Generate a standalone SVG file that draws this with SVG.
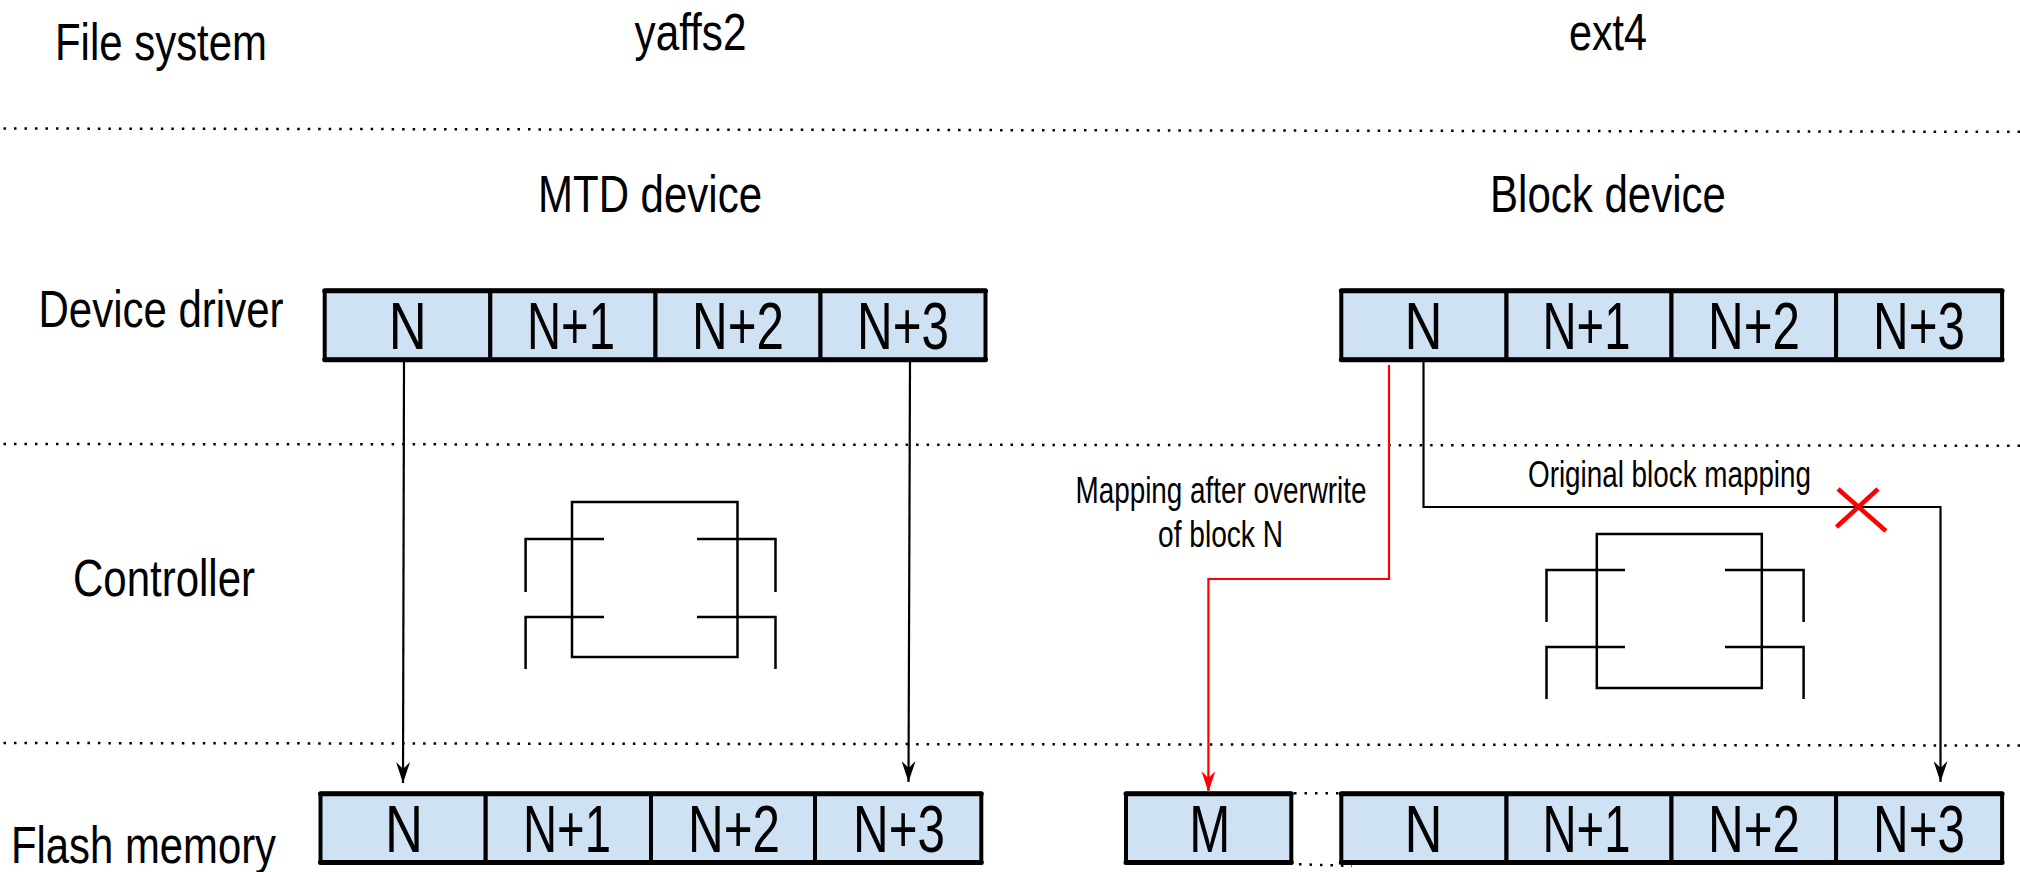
<svg xmlns="http://www.w3.org/2000/svg" width="2020" height="872" viewBox="0 0 2020 872">
<style>
text{font-family:"Liberation Sans",Arial,sans-serif;fill:#000;text-anchor:middle}
.t{font-size:52px}.c{font-size:66px}.s{font-size:37px}
.dot{stroke:#000;stroke-width:2.500;stroke-dasharray:2.500 7.990;fill:none}
.cell{fill:#cfe2f3;stroke:#000;stroke-width:4;stroke-linejoin:round}
.bar{fill:none;stroke:#000;stroke-width:5;stroke-linecap:round}
.chip{fill:none;stroke:#000;stroke-width:2.500}
.con{fill:none;stroke:#000;stroke-width:2.200}
.red{stroke:#f00}
</style>
<defs>
<marker id="ab" markerUnits="userSpaceOnUse" markerWidth="22" markerHeight="14" refX="21" refY="7" orient="auto" viewBox="0 0 22 14"><path d="M0 0L7 7L0 14L21 7Z" fill="#000"/></marker>
<marker id="ar" markerUnits="userSpaceOnUse" markerWidth="22" markerHeight="14" refX="21" refY="7" orient="auto" viewBox="0 0 22 14"><path d="M0 0L7 7L0 14L21 7Z" fill="#f00"/></marker>
</defs>
<g id="separators">
<path class="dot" d="M3.500 128.500L2020 131.800"/><path class="dot" d="M3.500 444L2020 445.700"/><path class="dot" d="M3.500 743L2020 745.500"/>
<path class="dot" d="M1294 793.300H1340M1299 864.200L1352 866"/>
</g>
<g id="labels">
<text class="t" x="161" y="60" textLength="212" lengthAdjust="spacingAndGlyphs">File system</text>
<text class="t" x="690.500" y="50" textLength="112" lengthAdjust="spacingAndGlyphs">yaffs2</text>
<text class="t" x="1608" y="50" textLength="78" lengthAdjust="spacingAndGlyphs">ext4</text>
<text class="t" x="650" y="212" textLength="224" lengthAdjust="spacingAndGlyphs">MTD device</text>
<text class="t" x="1608" y="212" textLength="236" lengthAdjust="spacingAndGlyphs">Block device</text>
<text class="t" x="161" y="327" textLength="245" lengthAdjust="spacingAndGlyphs">Device driver</text>
<text class="t" x="164" y="596" textLength="182" lengthAdjust="spacingAndGlyphs">Controller</text>
<text class="t" x="143.500" y="863" textLength="265" lengthAdjust="spacingAndGlyphs">Flash memory</text>
<text class="s" x="1669.500" y="487" textLength="283" lengthAdjust="spacingAndGlyphs">Original block mapping</text>
<text class="s" x="1221" y="503" textLength="291" lengthAdjust="spacingAndGlyphs">Mapping after overwrite</text>
<text class="s" x="1220.500" y="547" textLength="125" lengthAdjust="spacingAndGlyphs">of block N</text>
</g>
<g id="chip-left"><rect class="chip" x="572" y="502" width="165.500" height="155"/><path class="chip" d="M604 539H525.600V592M604 617H525.600V669M697 539H775.500V592M697 617H775.500V669"/></g>
<g id="chip-right"><rect class="chip" x="1596.800" y="534" width="165" height="154"/><path class="chip" d="M1625 570H1546.500V622M1625 647H1546.500V699M1725 570H1803.600V622M1725 647H1803.600V699"/></g>
<g id="driver-left">
<rect class="cell" x="324.700" y="290.800" width="165.600" height="68.900"/><rect class="cell" x="490.300" y="290.800" width="165.200" height="68.900"/><rect class="cell" x="655.500" y="290.800" width="165" height="68.900"/><rect class="cell" x="820.500" y="290.800" width="165" height="68.900"/>
<path class="bar" d="M324.700 290.800H985.500M324.700 359.700H985.500"/>
<text class="c" x="407.800" y="349" textLength="38" lengthAdjust="spacingAndGlyphs">N</text><text class="c" x="571" y="349" textLength="88" lengthAdjust="spacingAndGlyphs">N+1</text><text class="c" x="738" y="349" textLength="92" lengthAdjust="spacingAndGlyphs">N+2</text><text class="c" x="903" y="349" textLength="92" lengthAdjust="spacingAndGlyphs">N+3</text>
</g>
<g id="driver-right">
<rect class="cell" x="1341.300" y="290.800" width="165.200" height="68.900"/><rect class="cell" x="1506.500" y="290.800" width="165" height="68.900"/><rect class="cell" x="1671.500" y="290.800" width="164.600" height="68.900"/><rect class="cell" x="1836.100" y="290.800" width="166" height="68.900"/>
<path class="bar" d="M1341.300 290.800H2002.100M1341.300 359.700H2002.100"/>
<text class="c" x="1423.500" y="349" textLength="38" lengthAdjust="spacingAndGlyphs">N</text><text class="c" x="1586.500" y="349" textLength="88" lengthAdjust="spacingAndGlyphs">N+1</text><text class="c" x="1754" y="349" textLength="92" lengthAdjust="spacingAndGlyphs">N+2</text><text class="c" x="1919" y="349" textLength="92" lengthAdjust="spacingAndGlyphs">N+3</text>
</g>
<g id="flash-left">
<rect class="cell" x="320.500" y="793.800" width="165.200" height="68.700"/><rect class="cell" x="485.700" y="793.800" width="165.300" height="68.700"/><rect class="cell" x="651" y="793.800" width="164" height="68.700"/><rect class="cell" x="815" y="793.800" width="166.300" height="68.700"/>
<path class="bar" d="M320.500 793.800H981.300M320.500 862.500H981.300"/>
<text class="c" x="404" y="852" textLength="38" lengthAdjust="spacingAndGlyphs">N</text><text class="c" x="567" y="852" textLength="88" lengthAdjust="spacingAndGlyphs">N+1</text><text class="c" x="734" y="852" textLength="92" lengthAdjust="spacingAndGlyphs">N+2</text><text class="c" x="899" y="852" textLength="92" lengthAdjust="spacingAndGlyphs">N+3</text>
</g>
<g id="flash-m"><rect class="cell" x="1126" y="793.800" width="165.300" height="68.700"/><path class="bar" d="M1126 793.800H1291.300M1126 862.500H1291.300"/><text class="c" x="1209.700" y="852" textLength="41" lengthAdjust="spacingAndGlyphs">M</text></g>
<g id="flash-right">
<rect class="cell" x="1341.300" y="793.800" width="165.200" height="68.700"/><rect class="cell" x="1506.500" y="793.800" width="165" height="68.700"/><rect class="cell" x="1671.500" y="793.800" width="164.600" height="68.700"/><rect class="cell" x="1836.100" y="793.800" width="166" height="68.700"/>
<path class="bar" d="M1341.300 793.800H2002.100M1341.300 862.500H2002.100"/>
<text class="c" x="1423.500" y="852" textLength="38" lengthAdjust="spacingAndGlyphs">N</text><text class="c" x="1586.500" y="852" textLength="88" lengthAdjust="spacingAndGlyphs">N+1</text><text class="c" x="1754" y="852" textLength="92" lengthAdjust="spacingAndGlyphs">N+2</text><text class="c" x="1919" y="852" textLength="92" lengthAdjust="spacingAndGlyphs">N+3</text>
</g>
<g id="connectors">
<path class="con" d="M404 362L403 783" marker-end="url(#ab)"/>
<path class="con" d="M910 362L908.500 782" marker-end="url(#ab)"/>
<path class="con" d="M1423.500 362V507H1940.500V782" marker-end="url(#ab)"/>
<path class="con red" d="M1389 365V579H1208.400V792" marker-end="url(#ar)"/>
<path fill="none" stroke="#f00" stroke-width="4.500" d="M1838 489L1886 531M1878 489L1836.500 527"/>
</g>
</svg>
